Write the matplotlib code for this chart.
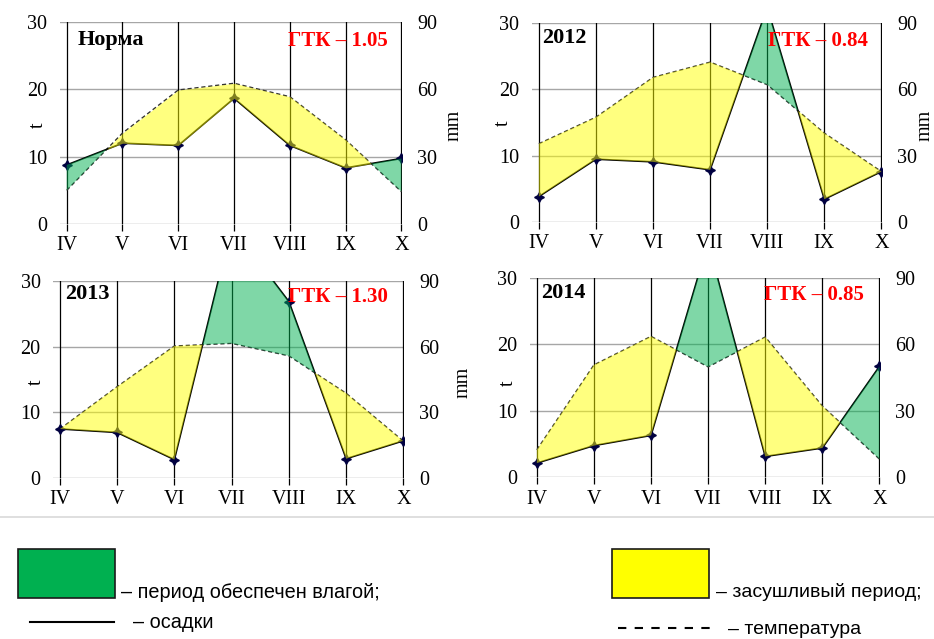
import matplotlib
matplotlib.use("Agg")
import matplotlib.pyplot as plt
import numpy as np
from matplotlib.patches import Rectangle
from matplotlib.lines import Line2D

months = ["IV", "V", "VI", "VII", "VIII", "IX", "X"]

# temperature, deg C (left axis)
temp_norm = [5.0, 13.5, 19.9, 20.9, 18.9, 12.5, 4.8]
temp_2012 = [11.8, 15.8, 21.8, 24.1, 20.7, 13.4, 7.6]
temp_2013 = [7.45, 13.9, 20.1, 20.5, 18.6, 12.9, 5.6]
temp_2014 = [4.1, 16.9, 21.2, 16.6, 21.1, 10.7, 2.7]

# precipitation, mm (right axis)
prec_norm = [26.3, 36.0, 35.0, 56.0, 35.0, 25.0, 29.2]
prec_2012 = [11.5, 28.4, 27.2, 23.6, 97.0, 10.3, 22.8]
prec_2013 = [22.4, 20.8, 8.4, 115.0, 80.6, 8.8, 17.0]
prec_2014 = [6.3, 14.2, 18.8, 106.0, 9.3, 13.1, 50.0]

titles = ["Норма", "2012", "2013", "2014"]
gtk = ["ГТК – 1.05", "ГТК – 0.84", "ГТК – 1.30", "ГТК – 0.85"]

W, H = 934, 639
fig = plt.figure(figsize=(W / 100, H / 100), dpi=100)

serif = "Liberation Serif"
sans = "Liberation Sans"

# panel boxes in pixels: left, right, top, bottom
boxes = [(60, 402, 22, 224), (532, 882, 23, 222),
         (53, 404, 281, 478), (530, 880, 278, 477)]
# label positions (pixels)
title_pos = [(78, 40), (542, 38), (65, 294), (541, 293)]
gtk_pos = [(288, 41), (768, 41), (288, 297), (764, 295)]
t_pos = [(38, 125), (503, 123), (36, 382), (508, 383)]
mm_pos = [(454, 125), (925, 125), (463, 382), None]

temps = [temp_norm, temp_2012, temp_2013, temp_2014]
precs = [prec_norm, prec_2012, prec_2013, prec_2014]

x = np.arange(len(months))
tick_fs = 14.5

for i in range(4):
    l, r, t, b = boxes[i]
    ax = fig.add_axes([l / W, 1 - b / H, (r - l) / W, (b - t) / H])
    tt = np.array(temps[i])
    pp = np.array(precs[i]) / 3.0  # 10 deg = 30 mm

    ax.set_xlim(-0.12, 6.01)
    ax.set_ylim(0, 30)
    for s in ax.spines.values():
        s.set_visible(False)
    for yv in [0, 10, 20, 30]:
        ax.axhline(yv, color="#a6a6a6", lw=1.0, zorder=0)
    for xv in x:
        ax.axvline(xv, color="black", lw=0.9, zorder=0.5)

    ax.plot(x, tt, color="#333333", lw=1.0, ls=(0, (3, 2)), zorder=2)
    ax.plot(x, pp, color="black", lw=1.2, zorder=2,
            marker=(4, 1, 0), ms=7, mfc="#000040", mec="#000040")

    ax.fill_between(x, tt, pp, where=pp >= tt, interpolate=True,
                    color="#00b050", alpha=0.5, lw=0, zorder=3)
    ax.fill_between(x, tt, pp, where=pp <= tt, interpolate=True,
                    color="#ffff00", alpha=0.5, lw=0, zorder=3)

    ax.set_xticks(x)
    ax.set_xticklabels(months, fontfamily=serif, fontsize=tick_fs)
    ax.tick_params(axis="x", length=5, width=0.9, color="black", pad=4)
    ax.set_yticks([0, 10, 20, 30])
    ax.set_yticklabels(["0", "10", "20", "30"], fontfamily=serif,
                       fontsize=tick_fs)
    ax.tick_params(axis="y", length=0, pad=9)

    ax2 = ax.twinx()
    ax2.set_ylim(0, 90)
    for s in ax2.spines.values():
        s.set_visible(False)
    ax2.set_yticks([0, 30, 60, 90])
    ax2.set_yticklabels(["0", "30", "60", "90"], fontfamily=serif,
                        fontsize=tick_fs)
    ax2.tick_params(axis="y", length=0, pad=11)

    px, py = t_pos[i]
    fig.text(px / W, 1 - py / H, "t", fontfamily=serif, fontsize=tick_fs,
             rotation=90, ha="center", va="center")
    if mm_pos[i] is not None:
        px, py = mm_pos[i]
        fig.text(px / W, 1 - py / H, "mm", fontfamily=serif, fontsize=tick_fs,
                 rotation=90, ha="center", va="center")

    tx, ty = title_pos[i]
    fig.text(tx / W, 1 - ty / H, titles[i], fontfamily=serif, fontsize=16,
             fontweight="bold", va="center", ha="left")
    gx, gy = gtk_pos[i]
    fig.text(gx / W, 1 - gy / H, gtk[i], fontfamily=serif, fontsize=15,
             fontweight="bold", color="red", va="center", ha="left")

# separator and legend at the bottom
fig.add_artist(Line2D([0, 1], [1 - 517 / H, 1 - 517 / H], color="#d9d9d9",
                      lw=1.2, transform=fig.transFigure))

fig.add_artist(Rectangle((18 / W, 1 - 598 / H), 97 / W, 49 / H,
                         facecolor="#00b050", edgecolor="#1a1a1a", lw=1.2,
                         transform=fig.transFigure))
fig.text(121 / W, 1 - 592 / H, "– период обеспечен влагой;", fontfamily=sans,
         fontsize=14.3, va="center", ha="left")
fig.add_artist(Line2D([30 / W, 114 / W], [1 - 622 / H, 1 - 622 / H],
                      color="black", lw=1.5, transform=fig.transFigure))
fig.text(133 / W, 1 - 622 / H, "– осадки", fontfamily=sans, fontsize=14.3,
         va="center", ha="left")

fig.add_artist(Rectangle((612 / W, 1 - 598 / H), 97 / W, 49 / H,
                         facecolor="#ffff00", edgecolor="#1a1a1a", lw=1.2,
                         transform=fig.transFigure))
fig.text(716 / W, 1 - 592 / H, "– засушливый период;", fontfamily=sans,
         fontsize=14, va="center", ha="left")
fig.add_artist(Line2D([618 / W, 712 / W], [1 - 628 / H, 1 - 628 / H],
                      color="black", lw=1.5, ls=(0, (4, 4)),
                      transform=fig.transFigure))
fig.text(728 / W, 1 - 630 / H, "– температура", fontfamily=sans, fontsize=14,
         va="center", ha="left")

fig.savefig("out.png", dpi=100)
